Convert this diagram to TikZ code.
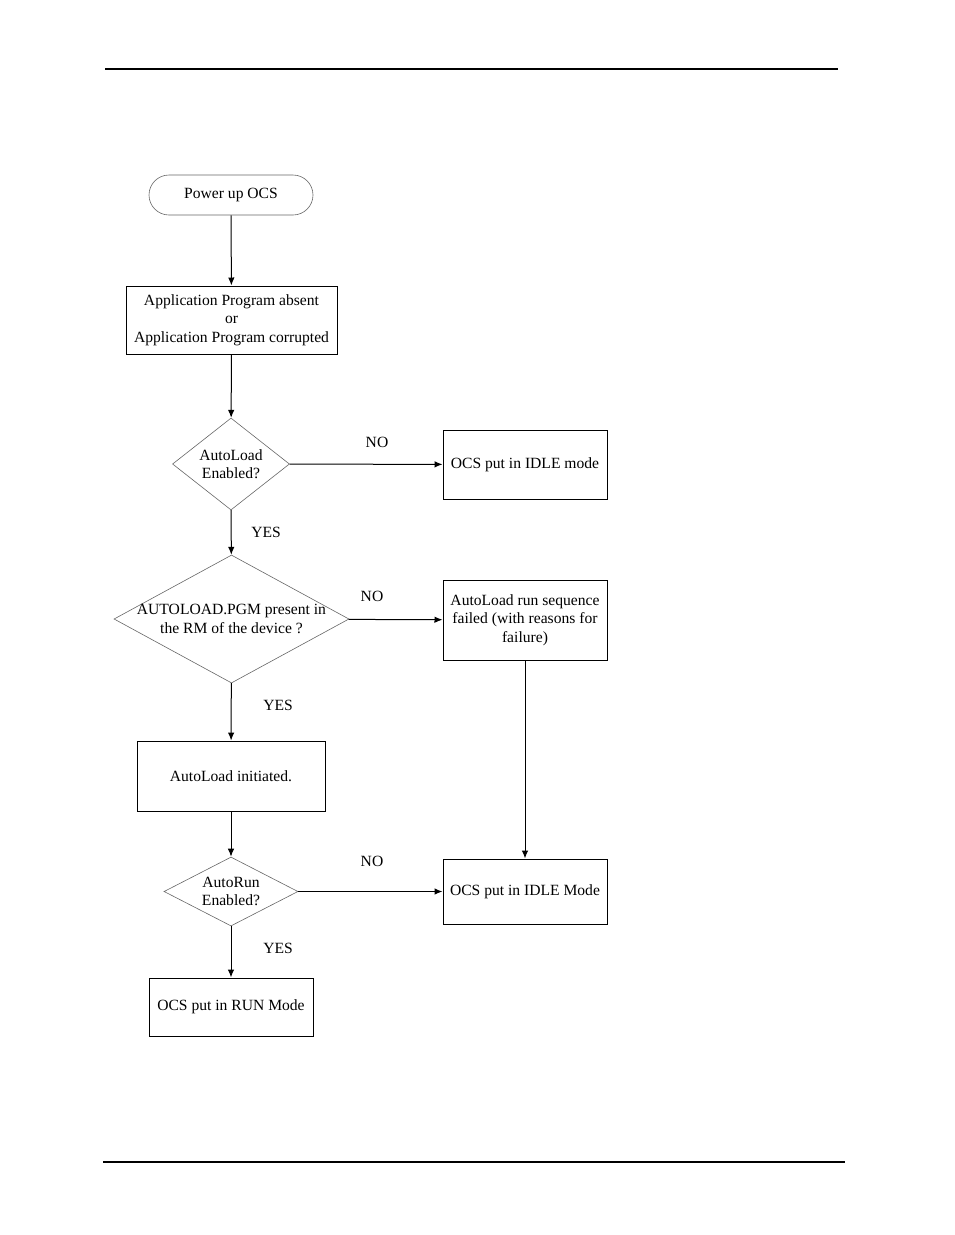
\documentclass[tikz,border=0pt]{standalone}
\usepackage{fontspec}
\setmainfont{Liberation Serif}
\usetikzlibrary{shapes.geometric}
\usetikzlibrary{arrows.meta}
\newcommand{\fsz}{\fontsize{15.6}{18.5}\selectfont}
\tikzset{box/.style={
  draw,line width=1pt,align=center,font=\fsz,inner sep=0pt
}}
\tikzset{decision/.style={
  diamond,draw=black!60,line width=0.6pt,inner sep=0pt
}}
\tikzset{flow/.style={
  -{Latex[length=8pt,width=6.5pt]},line width=1pt
}}
\tikzset{tag/.style={font=\fsz,inner sep=0pt}}

\begin{document}
\begin{tikzpicture}[x=1pt,y=-1pt]
    \useasboundingbox (0,0) rectangle (954,1235);
    \draw[line width=1.4pt] (105,69) -- (838,69);
    \draw[line width=1.4pt] (103,1162) -- (845,1162);
    % start
    \node[box,draw=black!60,line width=0.6pt,rounded corners=20pt,
      minimum width=164,minimum height=40] (pwr) at (231,195) {Power up OCS};
    \node[box,minimum width=211,minimum height=68] (absent) at (231.5,320)
      {Application Program absent\\or\\Application Program corrupted};
    \node[decision,minimum width=117,minimum height=92,
      label={[tag,align=center]center:AutoLoad\\Enabled?}] (ald) at (231,464) {};
    \node[box,minimum width=164,minimum height=69] (idlea) at (525,464.5)
      {OCS put in IDLE mode};
    \node[decision,minimum width=235,minimum height=128,
      label={[tag,align=center]center:AUTOLOAD.PGM present in\\the RM of the device ?}]
      (pgm) at (231.5,619) {};
    \node[box,minimum width=164,minimum height=80] (fail) at (525,620)
      {AutoLoad run sequence\\failed (with reasons for\\failure)};
    \node[box,minimum width=188,minimum height=70] (init) at (231,776)
      {AutoLoad initiated.};
    \node[decision,minimum width=134,minimum height=69,
      label={[tag,align=center]center:AutoRun\\Enabled?}] (arun) at (231,891.5) {};
    \node[box,minimum width=164,minimum height=65] (idleb) at (525,891.5)
      {OCS put in IDLE Mode};
    \node[box,minimum width=164,minimum height=58] (run) at (231,1007)
      {OCS put in RUN Mode};
    % labels
    \node[tag] (noa) at (377,442) {NO};
    \node[tag] (yesa) at (266,532) {YES};
    \node[tag] (nob) at (372,596) {NO};
    \node[tag] (yesb) at (278,705) {YES};
    \node[tag] (noc) at (372,861) {NO};
    \node[tag] (yesc) at (278,948) {YES};
    % arrows
    \draw[flow] (pwr) -- (absent);
    \draw[flow] (absent) -- (ald);
    \draw[flow] (ald) -- (idlea);
    \draw[flow] (ald) -- (pgm);
    \draw[flow] (pgm) -- (fail);
    \draw[flow] (pgm) -- (init);
    \draw[flow] (fail) -- (idleb);
    \draw[flow] (init) -- (arun);
    \draw[flow] (arun) -- (idleb);
    \draw[flow] (arun) -- (run);
  \end{tikzpicture}
\end{document}
